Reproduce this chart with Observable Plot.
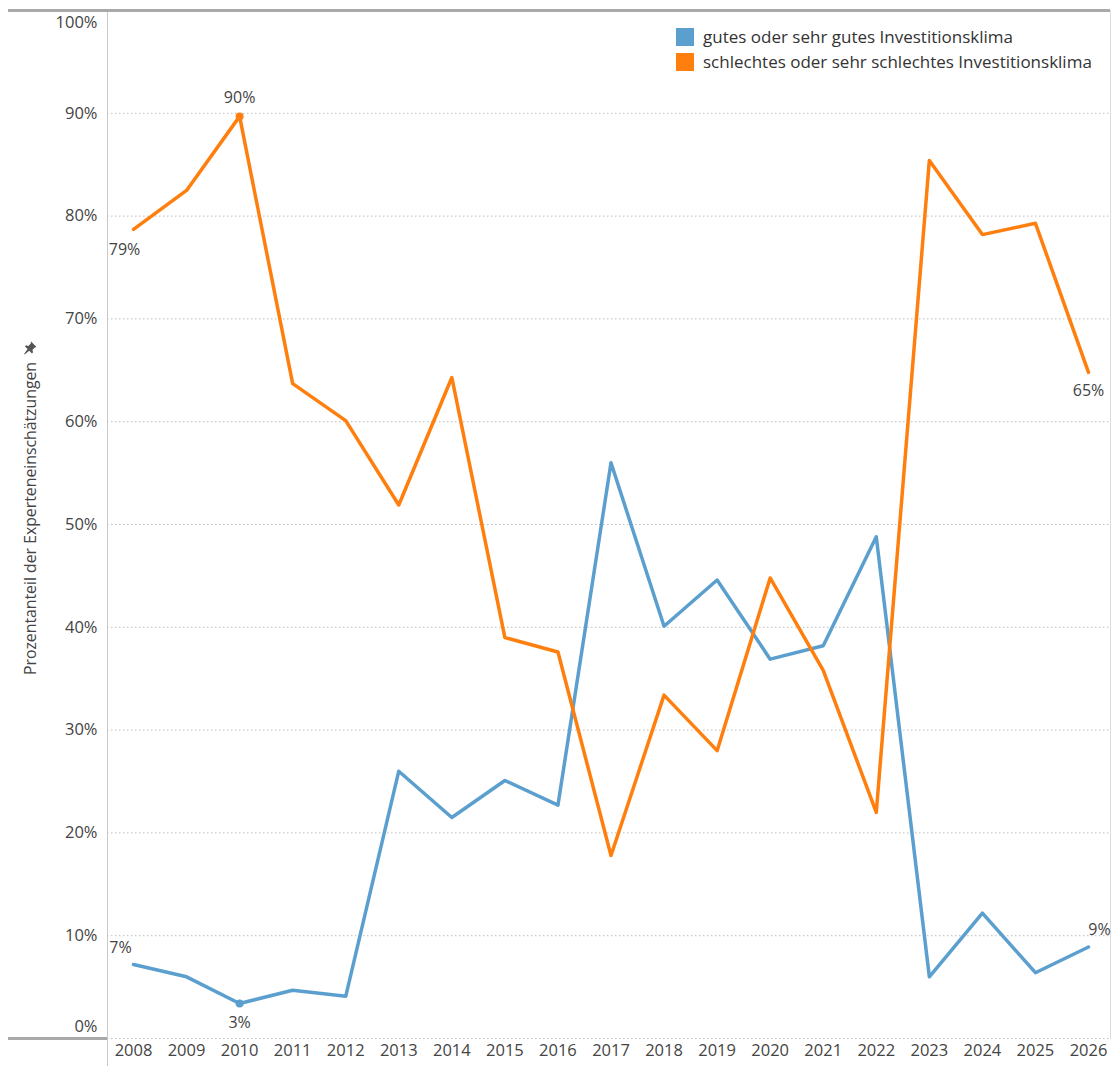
<!DOCTYPE html>
<html>
<head>
<meta charset="utf-8">
<script src="https://cdn.jsdelivr.net/npm/d3@7"></script>
<script src="https://cdn.jsdelivr.net/npm/@observablehq/plot@0.6"></script>
<style>
  body { margin: 0; background: #fff; font-family: "Open Sans", sans-serif; }
  #wrap { position: relative; width: 1115px; height: 1066px; }
  #legend { position: absolute; left: 676px; top: 24px; font-size: 17px; color: #333; line-height: 25px; }
  #legend .row { display: flex; align-items: center; height: 25px; }
  #legend .sw { width: 18px; height: 18px; margin-right: 9px; display: inline-block; }
  #ytitle { position: absolute; left: 30px; top: 508px; transform: translate(-50%, -50%) rotate(-90deg);
            white-space: nowrap; font-size: 15.8px; color: #444; display: flex; align-items: center; }
  #ytitle svg { margin-left: 7px; }
</style>
</head>
<body>
<div id="wrap"></div>
<script>
// ---- data ----
const years = [2008, 2009, 2010, 2011, 2012, 2013, 2014, 2015, 2016, 2017, 2018, 2019, 2020, 2021, 2022, 2023, 2024, 2025, 2026];
const gut = [7.2, 6.0, 3.4, 4.7, 4.1, 26.0, 21.5, 25.1, 22.7, 56.0, 40.1, 44.6, 36.9, 38.2, 48.8, 6.0, 12.2, 6.4, 8.9];
const schlecht = [78.7, 82.5, 89.7, 63.7, 60.1, 51.9, 64.3, 39.0, 37.6, 17.8, 33.4, 28.0, 44.8, 35.8, 22.0, 85.4, 78.2, 79.3, 64.8];
const seriesNames = ["gutes oder sehr gutes Investitionsklima", "schlechtes oder sehr schlechtes Investitionsklima"];
const seriesColors = ["#5b9fcf", "#ff7f0e"];
const yTicks = [0, 10, 20, 30, 40, 50, 60, 70, 80, 90, 100];
const yTitle = "Prozentanteil der Experteneinschätzungen";
// annotated points: series index, year, label, placement
const annotations = [
  {s: 1, year: 2008, text: "79%", pos: "belowLeft"},
  {s: 1, year: 2010, text: "90%", pos: "above"},
  {s: 1, year: 2026, text: "65%", pos: "below"},
  {s: 0, year: 2008, text: "7%", pos: "aboveLeft"},
  {s: 0, year: 2010, text: "3%", pos: "below"},
  {s: 0, year: 2026, text: "9%", pos: "aboveRight"}
];
const markedPoints = [{s: 1, year: 2010}, {s: 0, year: 2010}];

// ---- build table ----
const seriesValues = [gut, schlecht];
const rows = [];
seriesValues.forEach((vals, s) => years.forEach((y, i) => rows.push({year: y, value: vals[i], series: seriesNames[s]})));
const valueOf = (s, year) => seriesValues[s][years.indexOf(year)];
const ann = annotations.map(a => ({...a, value: valueOf(a.s, a.year)}));
const dots = markedPoints.map(p => ({...p, value: valueOf(p.s, p.year), series: seriesNames[p.s]}));

const W = 1115, H = 1066, ML = 107, MR = 5, MT = 10, MB = 28;
const txt = "#444";
const color = {domain: seriesNames, range: seriesColors};

const annMark = (pos, dx, dy) => Plot.text(ann.filter(a => a.pos === pos), {
  x: "year", y: "value", text: "text", dx, dy, fill: txt, fontSize: 16
});

const chart = Plot.plot({
  width: W, height: H,
  marginLeft: ML, marginRight: MR, marginTop: MT, marginBottom: MB,
  style: {fontFamily: "'Open Sans', sans-serif", color: txt, background: "#fff"},
  x: {domain: [years[0], years[years.length - 1]], insetLeft: 26, insetRight: 22},
  y: {domain: [0, 100]},
  color,
  marks: [
    Plot.gridY(yTicks.slice(0, -1), {stroke: "#bdbdbd", strokeOpacity: 1, strokeDasharray: "1.5,2.5"}),
    Plot.frame({anchor: "left", stroke: "#c8c8c8", insetBottom: -MB}),
    Plot.frame({anchor: "right", stroke: "#dcdcdc"}),
    Plot.ruleY([100], {stroke: "#a9a9a9", strokeWidth: 3, insetLeft: -(ML - 8)}),
    Plot.ruleY([0], {stroke: "#a9a9a9", strokeWidth: 3, insetLeft: -(ML - 8), insetRight: W - ML - MR}),
    Plot.axisY(yTicks.slice(1, -1), {tickSize: 0, tickPadding: 10, tickFormat: d => d + "%", fontSize: 16.5, label: null}),
    Plot.axisY([100], {tickSize: 0, tickPadding: 10, tickFormat: d => d + "%", fontSize: 16.5, dy: 12, label: null}),
    Plot.axisY([0], {tickSize: 0, tickPadding: 10, tickFormat: d => d + "%", fontSize: 16.5, dy: -12, label: null}),
    Plot.axisX(years, {tickSize: 0, tickPadding: 6, tickFormat: d => String(d), fontSize: 16.5, label: null}),
    Plot.line(rows, {x: "year", y: "value", z: "series", stroke: "series", strokeWidth: 3.5}),
    Plot.dot(dots, {x: "year", y: "value", fill: "series", r: 4}),
    annMark("belowLeft", -9, 20),
    annMark("above", 0, -19),
    annMark("below", 0, 19),
    annMark("aboveLeft", -13, -17),
    annMark("aboveRight", 11, -17)
  ]
});

const wrap = document.getElementById("wrap");
wrap.appendChild(chart);

// legend
const legend = document.createElement("div");
legend.id = "legend";
seriesNames.forEach((n, i) => {
  const row = document.createElement("div");
  row.className = "row";
  const sw = document.createElement("span");
  sw.className = "sw";
  sw.style.background = seriesColors[i];
  const t = document.createElement("span");
  t.textContent = n;
  row.appendChild(sw); row.appendChild(t);
  legend.appendChild(row);
});
wrap.appendChild(legend);

// y title with pin icon
const yt = document.createElement("div");
yt.id = "ytitle";
const span = document.createElement("span");
span.textContent = yTitle;
yt.appendChild(span);
yt.insertAdjacentHTML("beforeend",
  '<svg width="14" height="14" viewBox="0 0 13 13"><g transform="rotate(90 6.5 6.5)" fill="#555">' +
  '<path d="M7.5 0.5 L12.5 5.5 L11 6 L8.8 8.2 L9.3 10.5 L8.3 11.5 L5.8 9 L1.5 12.5 L1 12 L4.3 7.5 L1.8 5 L2.8 4 L5 4.5 L7.2 2.3 Z"/></g></svg>');
wrap.appendChild(yt);
</script>
</body>
</html>
